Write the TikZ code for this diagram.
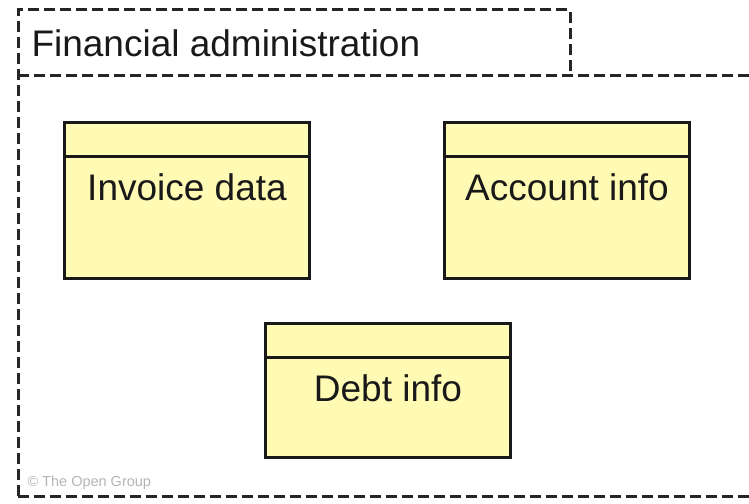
\documentclass[tikz,border=0pt]{standalone}
\usepackage{fontspec}
\setmainfont{Liberation Sans}
\definecolor{objfill}{RGB}{255,250,180}
\definecolor{copygrey}{RGB}{180,180,180}
\tikzset{
    framedash/.style={line width=3pt, dash pattern=on 11pt off 5pt, black!85},
    dataobj/.style={draw=black!90, line width=3pt, fill=objfill, rectangle, minimum width=245pt, anchor=north west, inner sep=0pt,
        path picture={\draw[line width=3pt, black!90] ([yshift=-34pt]path picture bounding box.north west) -- ([yshift=-34pt]path picture bounding box.north east);}},
    objtext/.style={font=\fontsize{37}{40}\selectfont, text=black!90}
}

\begin{document}
\begin{tikzpicture}[x=1pt, y=-1pt]
        \useasboundingbox (0,0) rectangle (749,503);

        \coordinate (tabtl) at (18,10);
        \coordinate (tabtr) at (570,10);
        \coordinate (tabbr) at (570,75);
        \coordinate (frtl) at (18,75);
        \coordinate (frtr) at (749,75);
        \coordinate (frbl) at (18,496);
        \coordinate (frbr) at (749,496);

        \draw[framedash] (frbl) -- (tabtl) -- (tabtr) -- (tabbr);
        \draw[framedash] (frtl) -- (frtr);
        \draw[framedash] (frbl) -- (frbr);

        \node[objtext, anchor=west] (title) at (28,43) {Financial administration};

        \node[dataobj, minimum height=156pt] (invoice) at (63,121) {};
        \node[dataobj, minimum height=156pt] (account) at (443,121) {};
        \node[dataobj, minimum height=134pt] (debt) at (264,322) {};

        \node[objtext] (invoicetxt) at ([yshift=-66pt]invoice.north) {Invoice data};
        \node[objtext] (accounttxt) at ([yshift=-66pt]account.north) {Account info};
        \node[objtext] (debttxt) at ([yshift=-66pt]debt.north) {Debt info};

        \node[font=\fontsize{14.5}{16}\selectfont, text=copygrey, anchor=west] (copy) at (24,483) {© The Open Group};
    \end{tikzpicture}
\end{document}
